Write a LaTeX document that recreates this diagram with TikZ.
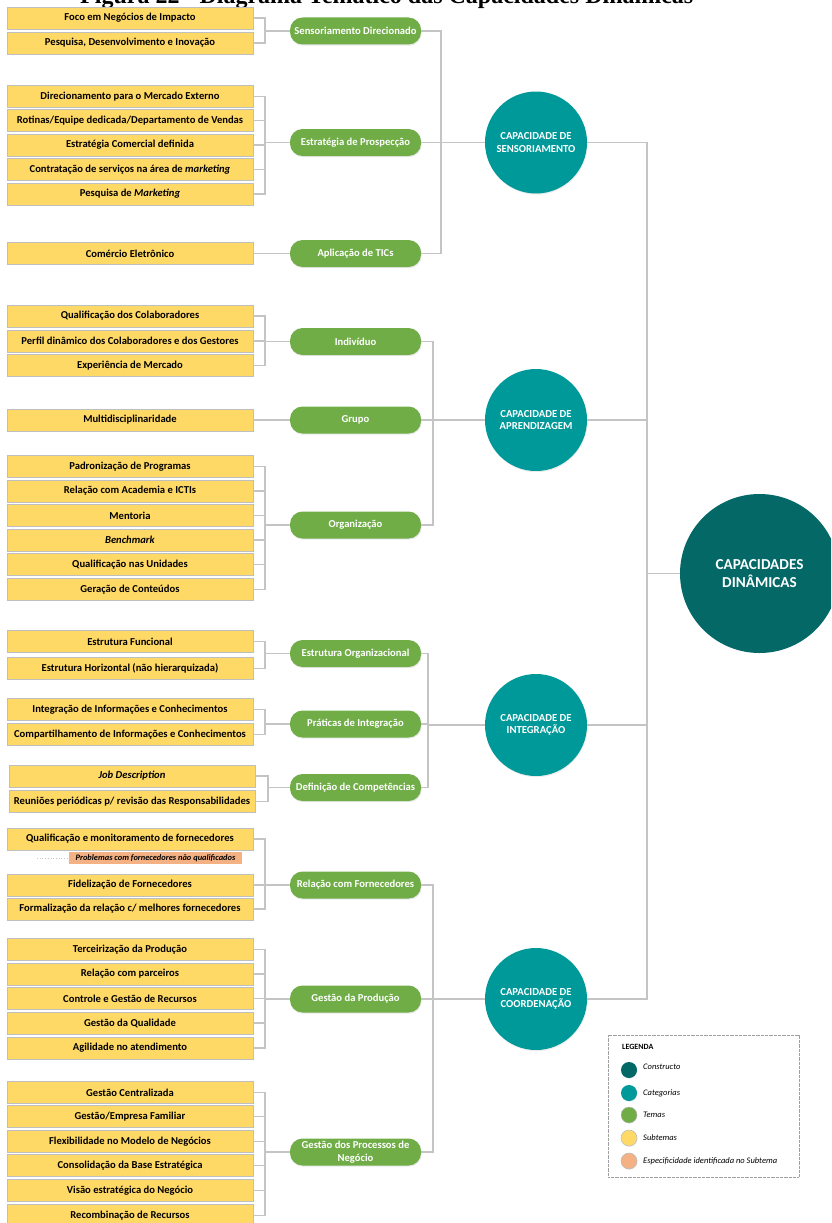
\documentclass[tikz,border=0pt]{standalone}
\usepackage{fontspec}
\setmainfont{Carlito}
\newfontfamily\titlefont{Liberation Serif}
\usetikzlibrary{shadows}

\definecolor{subyellow}{HTML}{FFD966}
\definecolor{subedge}{HTML}{BFBFBF}
\definecolor{themegreen}{HTML}{70AD47}
\definecolor{catteal}{HTML}{009999}
\definecolor{constructteal}{HTML}{036866}
\definecolor{specsalmon}{HTML}{F4B183}
\definecolor{linkgray}{HTML}{C4C4C4}

\tikzset{
  subbox/.style={draw=subedge, fill=subyellow, line width=0.8pt,
    minimum width=246pt, minimum height=22pt, inner sep=0pt,
    font=\bfseries\fontsize{10.6}{12}\selectfont},
  themebox/.style={fill=themegreen, text=white, rounded corners=12.5pt,
    minimum width=131pt, minimum height=27pt, inner sep=0pt, align=center,
    font=\bfseries\fontsize{10.6}{12.5}\selectfont,
    drop shadow={opacity=0.18, shadow xshift=0.6pt, shadow yshift=-1.2pt}},
  catcircle/.style={circle, fill=catteal, text=white, minimum size=102pt,
    inner sep=0pt, align=center, font=\bfseries\fontsize{10.7}{12.7}\selectfont,
    drop shadow={opacity=0.15, shadow xshift=0.6pt, shadow yshift=-1.2pt}},
  bigcircle/.style={circle, fill=constructteal, text=white, minimum size=159pt,
    inner sep=0pt, align=center, font=\bfseries\fontsize{15.2}{17.7}\selectfont},
  specbox/.style={fill=specsalmon, minimum width=173pt, minimum height=12pt,
    inner sep=0pt, font=\bfseries\itshape\fontsize{8.4}{9}\selectfont},
  link/.style={draw=linkgray, line width=1.1pt},
  speclink/.style={draw=gray!45, line width=0.7pt, dotted},
  legdot/.style={circle, minimum size=16pt, inner sep=0pt,
    drop shadow={opacity=0.15, shadow xshift=0.4pt, shadow yshift=-0.8pt}},
  leglabel/.style={anchor=west, inner sep=0pt, font=\itshape\fontsize{8.5}{9}\selectfont},
}

\begin{document}
\begin{tikzpicture}[x=1pt, y=-1pt]
\useasboundingbox (0,0) rectangle (831,1223);
\clip (0,0) rectangle (831,1223);

% heading, cut by the top edge of the page
\node[anchor=base west, inner sep=0pt, font=\titlefont\bfseries\fontsize{24}{26}\selectfont]
  (title) at (80,3.5) {Figura 22 - Diagrama Temático das Capacidades Dinâmicas};

% ---------- bracket positions ----------
\coordinate (bx) at (265,0);
\coordinate (bxj) at (268,0);
\coordinate (cxS) at (441,0);
\coordinate (cxA) at (433,0);
\coordinate (cxI) at (428,0);
\coordinate (cxC) at (433,0);
\coordinate (dx) at (647,0);

% ---------- subthemes ----------
\node[subbox] (a1) at (130,18)  {Foco em Negócios de Impacto};
\node[subbox] (a2) at (130,43)  {Pesquisa, Desenvolvimento e Inovação};

\node[subbox] (b1) at (130,96.5)  {Direcionamento para o Mercado Externo};
\node[subbox] (b2) at (130,120.5) {Rotinas/Equipe dedicada/Departamento de Vendas};
\node[subbox] (b3) at (130,145)   {Estratégia Comercial definida};
\node[subbox] (b4) at (130,169.5) {Contratação de serviços na área de \textit{marketing}};
\node[subbox] (b5) at (130,194)   {Pesquisa de \textit{Marketing}};

\node[subbox] (c1) at (130,253.5) {Comércio Eletrônico};

\node[subbox] (d1) at (130,316)   {Qualificação dos Colaboradores};
\node[subbox] (d2) at (130,341)   {Perfil dinâmico dos Colaboradores e dos Gestores};
\node[subbox] (d3) at (130,365.5) {Experiência de Mercado};

\node[subbox] (e1) at (130,420)   {Multidisciplinaridade};

\node[subbox] (f1) at (130,466.5) {Padronização de Programas};
\node[subbox] (f2) at (130,491)   {Relação com Academia e ICTIs};
\node[subbox] (f3) at (130,515.5) {Mentoria};
\node[subbox] (f4) at (130,540)   {\textit{Benchmark}};
\node[subbox] (f5) at (130,564.5) {Qualificação nas Unidades};
\node[subbox] (f6) at (130,589.5) {Geração de Conteúdos};

\node[subbox] (g1) at (130,641.5) {Estrutura Funcional};
\node[subbox] (g2) at (130,668.5) {Estrutura Horizontal (não hierarquizada)};

\node[subbox] (h1) at (130,709.5) {Integração de Informações e Conhecimentos};
\node[subbox] (h2) at (130,734.5) {Compartilhamento de Informações e Conhecimentos};

\node[subbox] (i1) at (132,776)   {\textit{Job Description}};
\node[subbox] (i2) at (132,801.5) {Reuniões periódicas p/ revisão das Responsabilidades};

\node[subbox] (j1) at (130,839)   {Qualificação e monitoramento de fornecedores};
\node[specbox] (sp) at (155.5,858) {Problemas com fornecedores não qualificados};
\node[subbox] (j2) at (130,885)   {Fidelização de Fornecedores};
\node[subbox] (j3) at (130,909)   {Formalização da relação c/ melhores fornecedores};

\node[subbox] (k1) at (130,949.5)  {Terceirização da Produção};
\node[subbox] (k2) at (130,974)    {Relação com parceiros};
\node[subbox] (k3) at (130,998.5)  {Controle e Gestão de Recursos};
\node[subbox] (k4) at (130,1023)   {Gestão da Qualidade};
\node[subbox] (k5) at (130,1048)   {Agilidade no atendimento};

\node[subbox] (l1) at (130,1092.5) {Gestão Centralizada};
\node[subbox] (l2) at (130,1116.5) {Gestão/Empresa Familiar};
\node[subbox] (l3) at (130,1141.5) {Flexibilidade no Modelo de Negócios};
\node[subbox] (l4) at (130,1165.5) {Consolidação da Base Estratégica};
\node[subbox] (l5) at (130,1190.5) {Visão estratégica do Negócio};
\node[subbox] (l6) at (130,1215.5) {Recombinação de Recursos};

% dotted pointer to the specific finding
\coordinate (spA) at (13,850);
\coordinate (spB) at (37,850);
\coordinate (spC) at (37,858);
\draw[speclink] (spA) -- (spB);
\draw[speclink] (spC) -- (sp.west);

% ---------- themes ----------
\node[themebox] (t1)  at (355.5,31)   {Sensoriamento Direcionado};
\node[themebox] (t2)  at (355.5,142.5) {Estratégia de Prospecção};
\node[themebox] (t3)  at (355.5,253.5) {Aplicação de TICs};
\node[themebox] (t4)  at (355.5,341.5) {Indivíduo};
\node[themebox] (t5)  at (355.5,420)  {Grupo};
\node[themebox] (t6)  at (355.5,525)  {Organização};
\node[themebox] (t7)  at (355.5,653.5) {Estrutura Organizacional};
\node[themebox] (t8)  at (355.5,724)  {Práticas de Integração};
\node[themebox] (t9)  at (355.5,787.5) {Definição de Competências};
\node[themebox] (t10) at (355.5,885)  {Relação com Fornecedores};
\node[themebox] (t11) at (355.5,999)  {Gestão da Produção};
\node[themebox] (t12) at (355.5,1152) {Gestão dos Processos de\\Negócio};

% ---------- categories ----------
\node[catcircle] (cS) at (536,142.5) {CAPACIDADE DE\\SENSORIAMENTO};
\node[catcircle] (cA) at (536,420)   {CAPACIDADE DE\\APRENDIZAGEM};
\node[catcircle] (cI) at (536,725)   {CAPACIDADE DE\\INTEGRAÇÃO};
\node[catcircle] (cC) at (536,999)   {CAPACIDADE DE\\COORDENAÇÃO};

% ---------- construct ----------
\node[bigcircle] (cd) at (759.5,573.5) {CAPACIDADES\\DINÂMICAS};

% ---------- connectors: subthemes to themes ----------
\foreach \s/\t in {a1/t1,a2/t1,b1/t2,b2/t2,b3/t2,b4/t2,b5/t2,c1/t3,
                   d1/t4,d2/t4,d3/t4,e1/t5,f1/t6,f2/t6,f3/t6,f4/t6,f5/t6,f6/t6,
                   g1/t7,g2/t7,h1/t8,h2/t8,
                   j1/t10,j2/t10,j3/t10,k1/t11,k2/t11,k3/t11,k4/t11,k5/t11,
                   l1/t12,l2/t12,l3/t12,l4/t12,l5/t12,l6/t12}
  \draw[link] (\s.east) -- (\s.east -| bx) |- (\t.west);
\foreach \s in {i1,i2}
  \draw[link] (\s.east) -- (\s.east -| bxj) |- (t9.west);

% themes to categories
\foreach \t in {t1,t2,t3}
  \draw[link] (\t.east) -- (\t.east -| cxS) |- (cS.west);
\foreach \t in {t4,t5,t6}
  \draw[link] (\t.east) -- (\t.east -| cxA) |- (cA.west);
\foreach \t in {t7,t8,t9}
  \draw[link] (\t.east) -- (\t.east -| cxI) |- (cI.west);
\foreach \t in {t10,t11,t12}
  \draw[link] (\t.east) -- (\t.east -| cxC) |- (cC.west);

% categories to the construct
\foreach \c in {cS,cA,cI,cC}
  \draw[link] (\c.east) -- (\c.east -| dx) |- (cd.west);

% ---------- legend ----------
\node[draw=gray!75, line width=0.8pt, dash pattern=on 0.8pt off 0.5pt,
      minimum width=191pt, minimum height=142pt, inner sep=0pt]
  (legend) at (703.5,1106) {};
\node[anchor=west, inner sep=0pt, font=\bfseries\fontsize{8}{9}\selectfont]
  (legtitle) at (622,1047) {LEGENDA};
\node[legdot, fill=constructteal] (lg1) at (629,1070) {};
\node[legdot, fill=catteal] (lg2) at (629,1093) {};
\node[legdot, fill=themegreen, draw=gray!50, line width=0.4pt] (lg3) at (629,1115) {};
\node[legdot, fill=subyellow, draw=subedge, line width=0.6pt] (lg4) at (629,1138) {};
\node[legdot, fill=specsalmon, draw=subedge, line width=0.6pt] (lg5) at (629,1161) {};
\node[leglabel] (ll1) at (643,1067) {Constructo};
\node[leglabel] (ll2) at (643,1093) {Categorias};
\node[leglabel] (ll3) at (643,1115) {Temas};
\node[leglabel] (ll4) at (643,1138) {Subtemas};
\node[leglabel] (ll5) at (643,1161) {Especificidade identificada no Subtema};
\end{tikzpicture}
\end{document}
